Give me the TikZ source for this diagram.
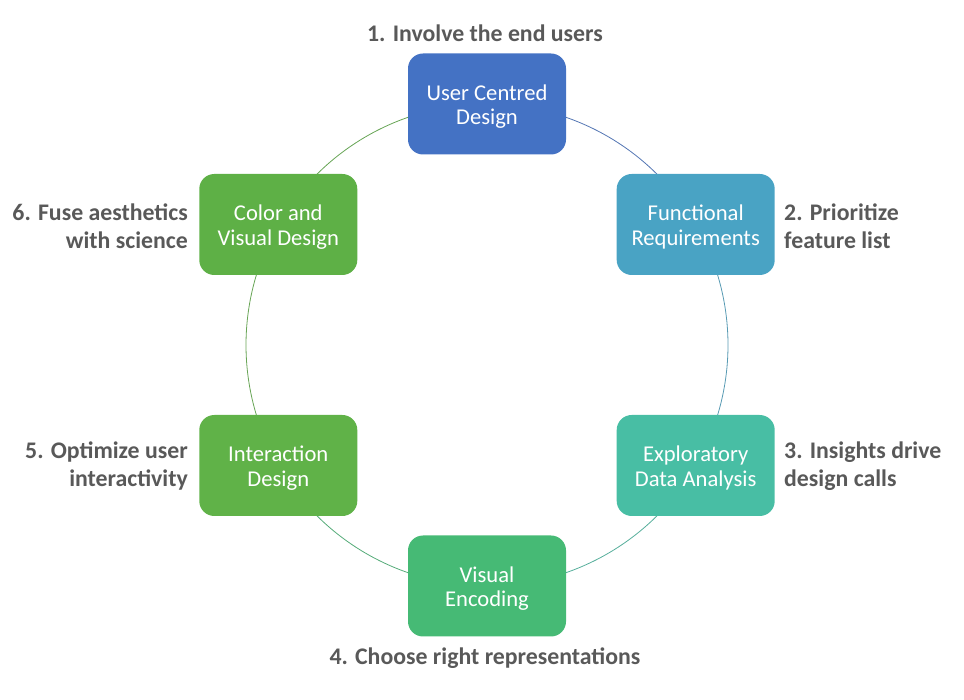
\documentclass[tikz,border=0pt]{standalone}
\usepackage{fontspec}
\usetikzlibrary{calc}
\setmainfont{Carlito}
\definecolor{cA}{RGB}{68,114,196}
\definecolor{cB}{RGB}{73,163,196}
\definecolor{cC}{RGB}{72,190,164}
\definecolor{cD}{RGB}{70,186,117}
\definecolor{cE}{RGB}{96,178,72}
\definecolor{cF}{RGB}{94,176,70}
\definecolor{lbl}{RGB}{89,89,89}
\begin{document}
\begin{tikzpicture}[x=1pt,y=1pt,
  stage/.style={rounded corners=15pt, minimum width=158pt, minimum height=101pt, text=white,
    font=\fontsize{22.6}{24.5}\selectfont, align=center, inner sep=0pt},
  lab/.style={font=\bfseries\fontsize{23.8}{28.5}\selectfont, text=lbl, inner sep=0pt},
  ring/.style={line width=0.8pt}]
\useasboundingbox (0,0) rectangle (964,699);
\coordinate (C) at (487,354);
\foreach \a/\c in {90/cA,30/cB,-30/cC,-90/cD,-150/cE,150/cF}
  \draw[ring,\c!75!gray] (C) ++(\a:241) arc[start angle=\a, delta angle=-60, radius=241];
\foreach \n/\a/\c/\t in {ucd/90/cA/{User Centred\\Design}, fr/30/cB/{Functional\\Requirements},
    eda/-30/cC/{Exploratory\\Data Analysis}, ve/-90/cD/{Visual\\Encoding},
    id/-150/cE/{Interaction\\Design}, cvd/150/cF/{Color and\\Visual Design}}
  \node[stage, fill=\c] (\n) at ($(C)+(\a:241)$) {\raisebox{-3.5pt}[\height][\depth]{\begin{tabular}{@{}c@{}}\t\end{tabular}}};
\node[lab] (l1) at (485,666) {1. Involve the end users};
\node[lab, anchor=west, align=left] (l2) at (784,473) {2. Prioritize\\feature list};
\node[lab, anchor=west, align=left] (l3) at (784,233) {3. Insights drive\\design calls};
\node[lab] (l4) at (485,41) {4. Choose right representations};
\node[lab, anchor=east, align=right] (l5) at (188,233) {5. Optimize user\\interactivity};
\node[lab, anchor=east, align=right] (l6) at (188,473) {6. Fuse aesthetics\\with science};
\end{tikzpicture}
\end{document}
